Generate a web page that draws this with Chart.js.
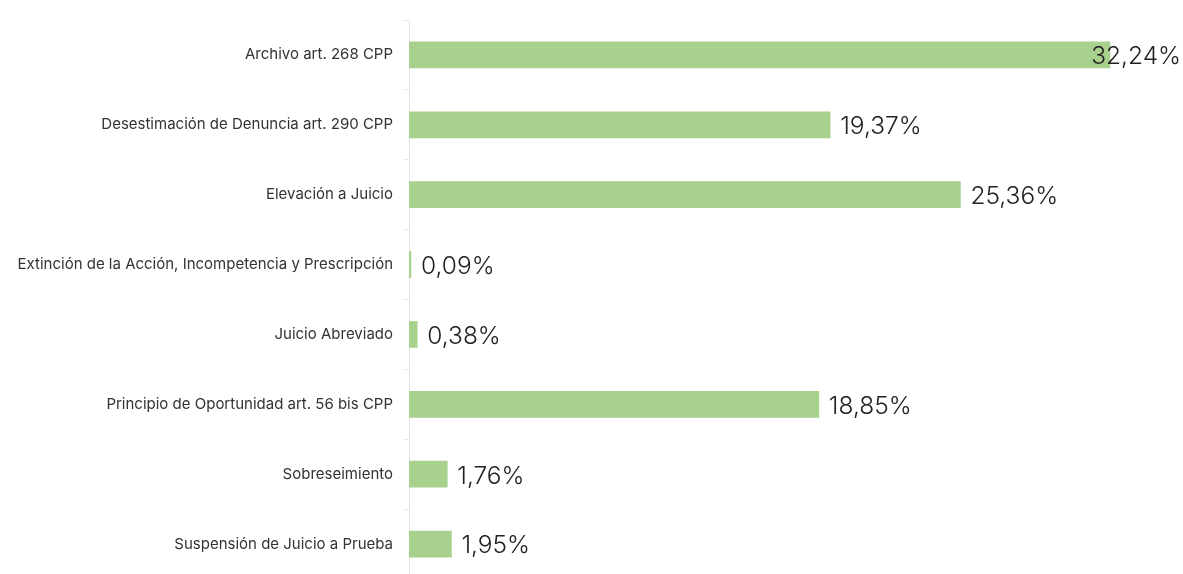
<!DOCTYPE html>
<html>
<head>
<meta charset="utf-8">
<script src="https://cdn.jsdelivr.net/npm/chart.js@4.4.1/dist/chart.umd.min.js"></script>
<style>
  html, body { margin: 0; padding: 0; background: #fff; overflow: hidden; }
  #wrap { width: 1183px; height: 600px; }
</style>
</head>
<body>
<div id="wrap"><canvas id="chart" width="1183" height="600"></canvas></div>
<script>
// categories and values (percent)
const categories = [
  'Archivo art. 268 CPP',
  'Desestimación de Denuncia art. 290 CPP',
  'Elevación a Juicio',
  'Extinción de la Acción, Incompetencia y Prescripción',
  'Juicio Abreviado',
  'Principio de Oportunidad art. 56 bis CPP',
  'Sobreseimiento',
  'Suspensión de Juicio a Prueba'
];
const percentages = [32.24, 19.37, 25.36, 0.09, 0.38, 18.85, 1.76, 1.95];

// value labels at bar ends, pushed left if they would leave the canvas
const valueLabels = {
  id: 'valueLabels',
  afterDatasetsDraw(chart) {
    const ctx = chart.ctx;
    const meta = chart.getDatasetMeta(0);
    ctx.save();
    ctx.font = '300 24.5px Inter, Roboto, "Open Sans", sans-serif';
    ctx.fillStyle = '#222';
    ctx.textBaseline = 'middle';
    meta.data.forEach((bar, i) => {
      const text = percentages[i].toFixed(2).replace('.', ',') + '%';
      const w = ctx.measureText(text).width;
      let x = bar.x + 10;
      if (x + w > chart.width - 2) x = chart.width - 2 - w;
      ctx.fillText(text, x, bar.y + 2);
    });
    ctx.restore();
  }
};

new Chart(document.getElementById('chart'), {
  type: 'bar',
  data: {
    labels: categories,
    datasets: [{
      data: percentages,
      backgroundColor: '#a9d18e',
      barThickness: 26
    }]
  },
  options: {
    indexAxis: 'y',
    responsive: false,
    animation: false,
    layout: { padding: { top: 19, right: 13, bottom: 21, left: 0 } },
    plugins: { legend: { display: false }, tooltip: { enabled: false } },
    scales: {
      x: { display: false, min: 0, max: 35 },
      y: {
        afterFit(scale) { scale.width = 409; },
        grid: {
          offset: true,
          drawOnChartArea: false,
          tickLength: 5,
          color: '#e6e6e6'
        },
        border: { color: '#e6e6e6' },
        ticks: {
          padding: 11,
          color: '#333',
          font: { family: 'Inter, "Open Sans", sans-serif', size: 15 }
        }
      }
    }
  },
  plugins: [valueLabels]
});
</script>
</body>
</html>
